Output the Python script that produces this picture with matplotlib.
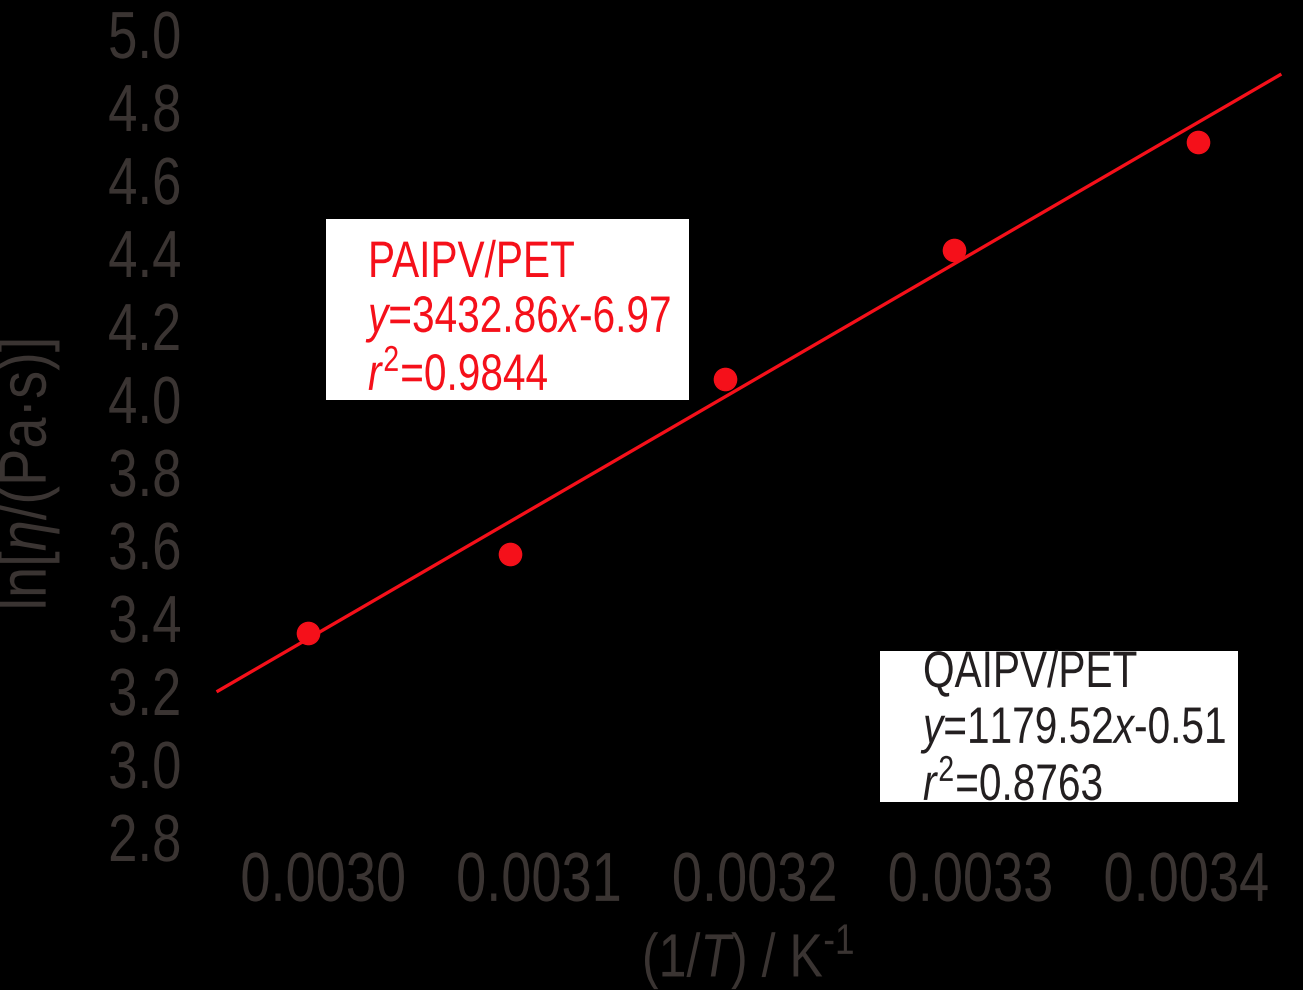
import matplotlib
matplotlib.use("Agg")
import matplotlib.pyplot as plt
from matplotlib.patches import Rectangle
from matplotlib.patheffects import AbstractPathEffect
from matplotlib.transforms import Affine2D

FAM = 'Liberation Sans'
plt.rcParams['font.family'] = [FAM, 'DejaVu Sans']
plt.rcParams['mathtext.fontset'] = 'custom'
plt.rcParams['mathtext.rm'] = FAM
plt.rcParams['mathtext.it'] = FAM + ':italic'
plt.rcParams['mathtext.bf'] = FAM + ':bold'

# data
inv_T = [0.0029928, 0.0030864, 0.0031861, 0.0032922, 0.0034054]
ln_eta = [3.359, 3.575, 4.055, 4.408, 4.704]
fit_x = [0.0029511, 0.0034433]
fit_y = [3.200, 4.888]
xticks = [0.0030, 0.0031, 0.0032, 0.0033, 0.0034]
xtick_labels = ['0.0030', '0.0031', '0.0032', '0.0033', '0.0034']
yticks = [2.8, 3.0, 3.2, 3.4, 3.6, 3.8, 4.0, 4.2, 4.4, 4.6, 4.8, 5.0]
ytick_labels = ['2.8', '3.0', '3.2', '3.4', '3.6', '3.8', '4.0', '4.2', '4.4', '4.6', '4.8', '5.0']

GRAY = '#3a3432'
RED = '#f5101a'
W, H = 1303, 990


class Condense(AbstractPathEffect):
    """Squeeze text horizontally (along its baseline) to mimic a narrow font."""

    def __init__(self, sx=0.78, anchor='left'):
        super().__init__()
        self.sx = sx
        self.anchor = anchor

    def draw_path(self, renderer, gc, tpath, affine, rgbFace=None):
        ext = tpath.get_extents()
        if self.anchor == 'center':
            cx = 0.5 * (ext.x0 + ext.x1)
        elif self.anchor == 'right':
            cx = ext.x1
        else:
            cx = 0.0
        a = Affine2D().translate(-cx, 0).scale(self.sx, 1).translate(cx, 0) + affine
        renderer.draw_path(gc, tpath, a, rgbFace)


fig = plt.figure(figsize=(W / 100, H / 100), dpi=100, facecolor='black')
ax = fig.add_axes([214 / W, (H - 837) / H, (1290 - 214) / W, (837 - 34) / H])
ax.set_facecolor('black')
for s in ax.spines.values():
    s.set_color('black')

ax.plot(fit_x, fit_y, color=RED, lw=2.4, zorder=2)
ax.plot(inv_T, ln_eta, 'o', color=RED, ms=16, zorder=3)

x0 = 0.0030 + (214 - 323.5) / 2157500
x1 = 0.0030 + (1290 - 323.5) / 2157500
ax.set_xlim(x0, x1)
ax.set_ylim(2.8, 5.0)
ax.set_xticks(xticks)
ax.set_xticklabels(xtick_labels)
ax.set_yticks(yticks)
ax.set_yticklabels(ytick_labels)
ax.tick_params(colors='black', labelcolor=GRAY, length=0)
ax.tick_params(axis='x', labelsize=50, pad=10)
ax.tick_params(axis='y', labelsize=48, pad=23)

ax.set_ylabel(r'ln[$\mathit{\eta}$/(Pa·s)]', color=GRAY, fontsize=48)
ax.yaxis.set_label_coords((62 - 214) / 1076, (837 - 475) / 803)
ax.yaxis.label.set_path_effects([Condense(0.84, 'center')])

ax.set_xlabel('(1/$\\mathit{T}$) / K$^{\\mathrm{\u2010}1}$', color=GRAY, fontsize=44)
ax.xaxis.set_label_coords((748 - 214) / 1076, (837 - 977) / 803)
ax.xaxis.label.set_va('baseline')
ax.xaxis.label.set_path_effects([Condense(0.82, 'center')])

fig.canvas.draw()
for t in ax.xaxis.get_major_ticks():
    t.label1.set_path_effects([Condense(0.78, 'center')])
for t in ax.yaxis.get_major_ticks():
    t.label1.set_path_effects([Condense(0.79, 'right')])


# annotation boxes
def box(x0p, y0p, x1p, y1p):
    fig.patches.append(Rectangle((x0p / W, 1 - y1p / H), (x1p - x0p) / W, (y1p - y0p) / H,
                                 transform=fig.transFigure, facecolor='white',
                                 edgecolor='none', zorder=5))


box(326, 219, 689, 400)
box(880, 651, 1238, 802)

fs = 37
SQ = 0.79
pe = [Condense(SQ, 'left')]
fig.text(368 / W, 1 - 277 / H, 'PAIPV/PET', color=RED, fontsize=fs, zorder=6, path_effects=pe)
fig.text(368 / W, 1 - 332 / H, r'$\mathit{y}$=3432.86$\mathit{x}$-6.97', color=RED, fontsize=fs, zorder=6, path_effects=pe)
fig.text(368 / W, 1 - 390 / H, r'$\mathit{r}^{2}$=0.9844', color=RED, fontsize=fs, zorder=6, path_effects=pe)

fig.text(923 / W, 1 - 687 / H, 'QAIPV/PET', color='#231f20', fontsize=fs, zorder=6, path_effects=pe)
fig.text(923 / W, 1 - 743 / H, r'$\mathit{y}$=1179.52$\mathit{x}$-0.51', color='#231f20', fontsize=fs, zorder=6, path_effects=pe)
fig.text(923 / W, 1 - 800 / H, r'$\mathit{r}^{2}$=0.8763', color='#231f20', fontsize=fs, zorder=6, path_effects=pe)

fig.savefig('out.png', dpi=100, facecolor='black')
